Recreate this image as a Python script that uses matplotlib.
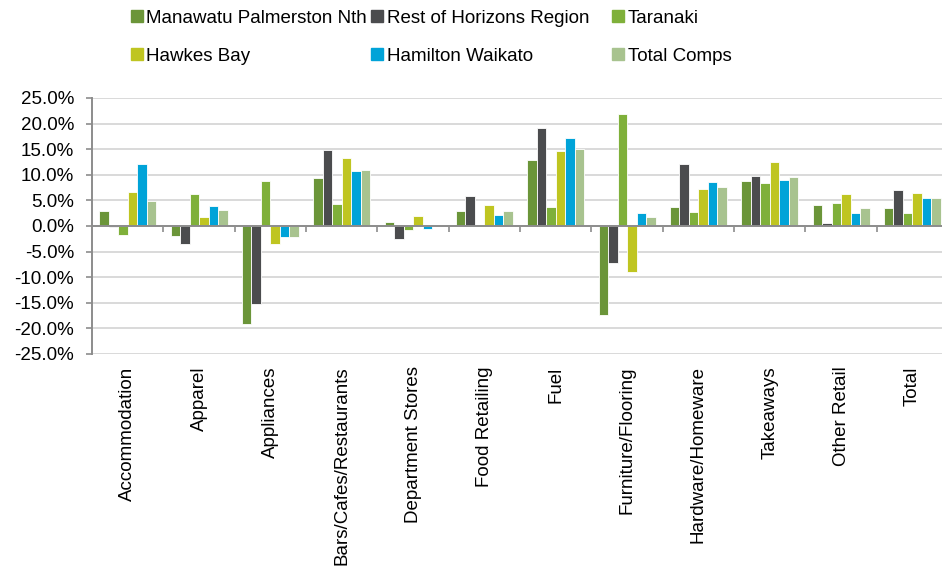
import numpy as np
import matplotlib.pyplot as plt
from matplotlib.patches import Patch
from matplotlib.ticker import FuncFormatter

plt.rcParams['font.family'] = ['Liberation Sans', 'DejaVu Sans']

categories = ['Accommodation', 'Apparel', 'Appliances', 'Bars/Cafes/Restaurants',
              'Department Stores', 'Food Retailing', 'Fuel', 'Furniture/Flooring',
              'Hardware/Homeware', 'Takeaways', 'Other Retail', 'Total']

manawatu = [2.9, -2.0, -19.1, 9.4, 0.85, 2.9, 12.8, -17.3, 3.8, 8.8, 4.0, 3.6]
rest_horizons = [-0.2, -3.6, -15.2, 14.9, -2.5, 5.9, 19.1, -7.3, 12.2, 9.8, 0.5, 7.0]
taranaki = [-1.8, 6.25, 8.7, 4.2, -0.85, 0.0, 3.8, 21.8, 2.8, 8.3, 4.5, 2.5]
hawkes_bay = [6.7, 1.75, -3.45, 13.2, 1.9, 4.1, 14.7, -8.9, 7.2, 12.5, 6.3, 6.4]
hamilton = [12.1, 3.85, -2.2, 10.8, -0.65, 2.15, 17.1, 2.5, 8.5, 9.05, 2.6, 5.5]
total_comps = [4.9, 3.05, -2.2, 10.9, -0.1, 2.9, 15.1, 1.8, 7.7, 9.6, 3.5, 5.5]

series = [
    ('Manawatu Palmerston Nth', manawatu, '#6b9539'),
    ('Rest of Horizons Region', rest_horizons, '#4b4c4e'),
    ('Taranaki', taranaki, '#7fb03a'),
    ('Hawkes Bay', hawkes_bay, '#bfc521'),
    ('Hamilton Waikato', hamilton, '#00a3d8'),
    ('Total Comps', total_comps, '#a8c38f'),
]

fs = 13.5

fig = plt.figure(figsize=(9.42, 5.67), dpi=100)
ax = fig.add_axes([0.0977, 0.3757, 0.9088, 0.4515])

x = np.arange(len(categories))
width = 0.8 / len(series)
for i, (name, vals, col) in enumerate(series):
    ax.bar(x - 0.4 + width * (i + 0.5), vals, width, color=col,
           edgecolor='white', linewidth=0.6, zorder=3)

ax.set_xlim(-0.5, len(categories) - 0.5)
ax.set_ylim(-25, 25)
ax.set_yticks(np.arange(-25, 26, 5))
ax.yaxis.set_major_formatter(FuncFormatter(lambda v, p: f'{v:.1f}%'))
ax.grid(axis='y', color='#d9d9d9', linewidth=1.4, zorder=0)

for s in ['top', 'right']:
    ax.spines[s].set_visible(False)
ax.spines['left'].set_color('#8c8c8c')
ax.spines['left'].set_linewidth(1.4)
ax.spines['bottom'].set_position(('data', 0))
ax.spines['bottom'].set_color('#8c8c8c')
ax.spines['bottom'].set_linewidth(1.4)
ax.spines['bottom'].set_zorder(4)

ax.set_xticks(x)
ax.set_xticklabels(categories, rotation=90, va='top', ha='center')
ax.set_xticks(np.arange(0.5, len(categories) - 0.5, 1), minor=True)
ax.tick_params(axis='x', which='major', length=0, pad=101, labelsize=fs)
ax.tick_params(axis='x', which='minor', length=4, color='#8c8c8c', width=1.2)
ax.tick_params(axis='y', length=4, color='#8c8c8c', width=1.2, labelsize=fs, pad=9)

# legend: three columns, two rows
cols = [(0.139, [0, 3]), (0.394, [1, 4]), (0.650, [2, 5])]
for xpos, idx in cols:
    handles = [Patch(color=series[k][2], label=series[k][0]) for k in idx]
    fig.legend(handles=handles, loc='upper left', bbox_to_anchor=(xpos, 0.983),
               frameon=False, fontsize=fs, handlelength=0.62, handleheight=0.62,
               handletextpad=0.2, labelspacing=1.12, borderaxespad=0, borderpad=0)

fig.savefig('out.png', dpi=100)
